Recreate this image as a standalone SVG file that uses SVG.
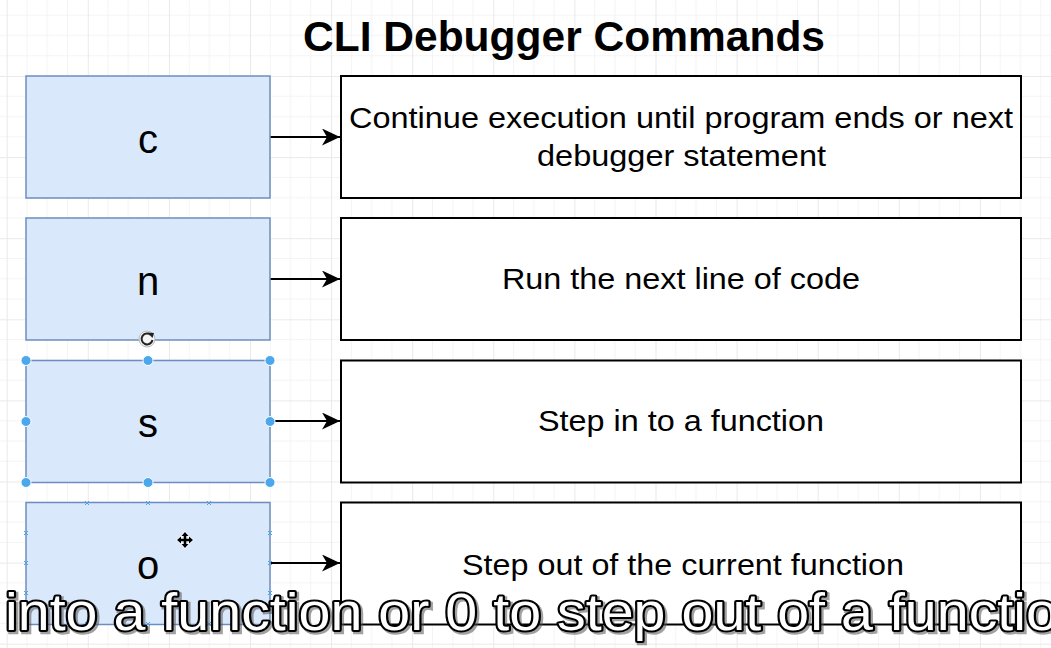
<svg xmlns="http://www.w3.org/2000/svg" width="1051" height="648" viewBox="0 0 1051 648">
  <defs>
    <pattern id="grid" patternUnits="userSpaceOnUse" x="6.7" y="-5.1" width="81.1" height="81.1">
      <path d="M20.28,0V81.1M40.55,0V81.1M60.83,0V81.1M0,20.28H81.1M0,40.55H81.1M0,60.83H81.1" stroke="#f4f4f4" stroke-width="1" fill="none"/>
      <path d="M0.5,0V81.1M0,0.5H81.1" stroke="#e9e9e9" stroke-width="1" fill="none"/>
    </pattern>
    <marker id="arr" viewBox="0 0 18 17" refX="18" refY="8.5" markerWidth="18" markerHeight="17" markerUnits="userSpaceOnUse" orient="auto">
      <path d="M18,8.5L0,0L5,8.5L0,17Z" fill="#000"/>
    </marker>
  </defs>
  <style>
    .cmd{fill:#dae8fc;stroke:#6c8ebf;stroke-width:1.5}
    .desc{fill:#fff;stroke:#000;stroke-width:2}
    .key{font-family:"Liberation Sans",Arial,sans-serif;font-size:40px;fill:#000;text-anchor:middle}
    .txt{font-family:"Liberation Sans",Arial,sans-serif;font-size:30px;fill:#000}
    .title{font-family:"Liberation Sans",Arial,sans-serif;font-size:42px;font-weight:bold;fill:#000}
    .edge{stroke:#000;stroke-width:2;fill:none}
    .h{fill:#4ba8ec;stroke:#fff;stroke-width:1}
    .cp{stroke:#4ba3e3;stroke-width:1;fill:none}
    .cap{font-family:"Liberation Sans",Arial,sans-serif;font-size:51px;font-weight:normal}
  </style>
  <rect width="1051" height="648" fill="#fff"/>
  <rect width="1051" height="648" fill="url(#grid)"/>

  <text class="title" x="303" y="51" textLength="522" lengthAdjust="spacingAndGlyphs">CLI Debugger Commands</text>

  <g id="connectors">
    <path class="edge" d="M270,137H340" marker-end="url(#arr)"/>
    <path class="edge" d="M270,279H340" marker-end="url(#arr)"/>
    <path class="edge" d="M275,421H340" marker-end="url(#arr)"/>
    <path class="edge" d="M270,563H340" marker-end="url(#arr)"/>
  </g>

  <g id="node-c">
    <rect class="cmd" x="26" y="76" width="244" height="122"/>
    <text class="key" x="148" y="153">c</text>
  </g>
  <g id="desc-c">
    <rect class="desc" x="341" y="76" width="680" height="122"/>
    <text class="txt" x="349" y="128" textLength="664" lengthAdjust="spacingAndGlyphs">Continue execution until program ends or next</text>
    <text class="txt" x="537" y="166" textLength="289" lengthAdjust="spacingAndGlyphs">debugger statement</text>
  </g>

  <g id="node-n">
    <rect class="cmd" x="26" y="218" width="244" height="122"/>
    <text class="key" x="148" y="295">n</text>
  </g>
  <g id="desc-n">
    <rect class="desc" x="341" y="218" width="680" height="122"/>
    <text class="txt" x="502" y="289" textLength="358" lengthAdjust="spacingAndGlyphs">Run the next line of code</text>
  </g>

  <g id="node-s">
    <rect class="cmd" x="26" y="360.5" width="244" height="122"/>
    <text class="key" x="148" y="437">s</text>
  </g>
  <g id="desc-s">
    <rect class="desc" x="341" y="360.5" width="680" height="122"/>
    <text class="txt" x="538" y="431" textLength="286" lengthAdjust="spacingAndGlyphs">Step in to a function</text>
  </g>

  <g id="node-o">
    <rect class="cmd" x="26" y="502.5" width="244" height="122"/>
    <text class="key" x="148" y="579">o</text>
  </g>
  <g id="desc-o">
    <rect class="desc" x="341" y="502.5" width="680" height="122"/>
    <text class="txt" x="462" y="575" textLength="442" lengthAdjust="spacingAndGlyphs">Step out of the current function</text>
  </g>

  <g id="selection-handles">
    <circle class="h" cx="26" cy="360.5" r="5"/>
    <circle class="h" cx="148" cy="360.5" r="5"/>
    <circle class="h" cx="270" cy="360.5" r="5"/>
    <circle class="h" cx="26" cy="421.5" r="5"/>
    <circle class="h" cx="270" cy="421.5" r="5"/>
    <circle class="h" cx="26" cy="482.5" r="5"/>
    <circle class="h" cx="148" cy="482.5" r="5"/>
    <circle class="h" cx="270" cy="482.5" r="5"/>
  </g>
  <g id="rotate-handle">
    <circle cx="147" cy="339" r="8" fill="#f4f4f4" stroke="#bbb" stroke-width="1"/>
    <path d="M151,335A5.5,5.5 0 1 0 152.5,340" stroke="#222" stroke-width="2" fill="none"/>
    <path d="M147.5,332.5L154,333L152.5,338Z" fill="#222"/>
  </g>
  <g id="connection-points">
    <path class="cp" d="M85,501L89,505M89,501L85,505M146,501L150,505M150,501L146,505M207,501L211,505M211,501L207,505"/>
    <path class="cp" d="M24,531L28,535M28,531L24,535M24,561L28,565M28,561L24,565M24,591L28,595M28,591L24,595"/>
    <path class="cp" d="M268,531L272,535M272,531L268,535M268,561L272,565M272,561L268,565M268,591L272,595M272,591L268,595"/>
    <path class="cp" d="M85,622L89,626M89,622L85,626M146,622L150,626M150,622L146,626M207,622L211,626M211,622L207,626"/>
  </g>
  <g id="move-cursor">
    <path d="M185,532L188.5,536H186.3V538.8H189V536.5L193,540L189,543.5V541.2H186.3V544H188.5L185,548L181.5,544H183.7V541.2H181V543.5L177,540L181,536.5V538.8H183.7V536H181.5Z" fill="#000" stroke="#fff" stroke-width="1.2" paint-order="stroke"/>
  </g>

  <g id="caption">
    <text class="cap" x="7" y="632" textLength="1053" lengthAdjust="spacingAndGlyphs" fill="#555" stroke="#555" stroke-width="4.5" opacity="0.55">into a function or 0 to step out of a functio</text>
    <text class="cap" x="5" y="630" textLength="1053" lengthAdjust="spacingAndGlyphs" fill="#fff" stroke="#000" stroke-width="4" stroke-linejoin="round" paint-order="stroke">into a function or 0 to step out of a functio</text>
  </g>
</svg>
